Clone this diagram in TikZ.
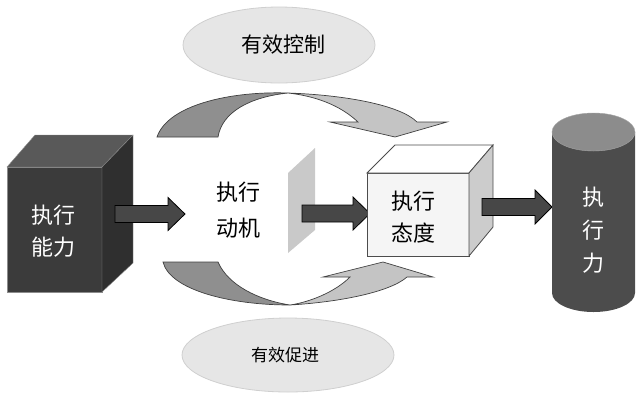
\documentclass[tikz,border=0pt]{standalone}
\usepackage{fontspec}
\newfontfamily\cjk{Noto Sans CJK SC}
\definecolor{cubedark}{HTML}{3B3B3B}
\definecolor{cubetop}{HTML}{595959}
\definecolor{cubeside}{HTML}{2F2F2F}
\definecolor{ribdark}{HTML}{8F8F8F}
\definecolor{riblight}{HTML}{C4C4C4}
\definecolor{ellfill}{HTML}{E6E6E6}
\definecolor{elledge}{HTML}{CFCFCF}
\tikzset{
  blockarr/.style={fill=black!72, draw=black, line width=0.8pt},
  ribbon/.style={draw=black!75, line width=0.7pt},
  ovalbg/.style={fill=ellfill, draw=elledge, line width=0.8pt},
  lbl/.style={align=center, inner sep=0pt},
}
\begin{document}
\begin{tikzpicture}[x=1pt,y=-1pt]
\useasboundingbox (0,0) rectangle (644,400);
% ellipses
\draw[ovalbg] (279,45) ellipse [x radius=96, y radius=38];
\draw[ovalbg] (288,355) ellipse [x radius=106, y radius=37];
\node[lbl, font=\cjk\fontsize{21}{25}\selectfont] (ctrl) at (283,45) {有效控制};
\node[lbl, font=\cjk\fontsize{17}{20}\selectfont] (prom) at (285,355) {有效促进};
% top ribbon
\draw[ribbon, fill=ribdark] (157,137) .. controls (168,105) and (230,91) .. (288,93) .. controls (250,97) and (222,112) .. (218,137) -- cycle;
\draw[ribbon, fill=riblight] (288,93) .. controls (345,95) and (400,105) .. (417,122) -- (447,122) -- (395,137) -- (330,122) -- (358,122) .. controls (340,105) and (315,96) .. (288,93) -- cycle;
% bottom ribbon
\draw[ribbon, fill=ribdark] (163,262) -- (218,262) .. controls (228,285) and (258,300) .. (290,305) .. controls (230,305) and (170,290) .. (163,262) -- cycle;
\draw[ribbon, fill=riblight] (290,305) .. controls (340,302) and (390,292) .. (407,277) -- (433,277) -- (383,262) -- (323,277) -- (350,277) .. controls (335,292) and (310,302) .. (290,305) -- cycle;
% left cube
\draw[draw=black!45, fill=cubedark] (7,167) -- (102,167) -- (102,292) -- (7,292) -- cycle;
\draw[draw=black!45, fill=cubetop] (7,167) -- (35,135) -- (133,135) -- (102,167) -- cycle;
\draw[draw=black!45, fill=cubeside] (102,167) -- (133,135) -- (133,263) -- (102,292) -- cycle;
\node[lbl, text=white, font=\cjk\fontsize{22}{32}\selectfont] (abil) at (53,231) {执行\\能力};
% arrow 1
\draw[blockarr] (115,205.5) -- (168,205.5) -- (168,197.5) -- (185,214) -- (168,230.5) -- (168,222.5) -- (115,222.5) -- cycle;
% motive
\node[lbl, font=\cjk\fontsize{22}{36}\selectfont] (motv) at (238,210) {执行\\动机};
% plate
\fill[black!21] (288,173) -- (315,148) -- (315,230) -- (288,253) -- cycle;
% arrow 2
\draw[blockarr] (302,205) -- (353,205) -- (353,197) -- (370,213.5) -- (353,230) -- (353,222) -- (302,222) -- cycle;
% middle cube
\draw[draw=black!70, line width=0.8pt, fill=black!4] (367,173) -- (469,173) -- (469,256) -- (367,256) -- cycle;
\draw[draw=black!70, line width=0.8pt, fill=white] (367,173) -- (395,145) -- (493,145) -- (469,173) -- cycle;
\draw[draw=black!70, line width=0.8pt, fill=black!20] (469,173) -- (493,145) -- (493,227) -- (469,256) -- cycle;
\node[lbl, font=\cjk\fontsize{22}{32}\selectfont] (atti) at (413,217) {执行\\态度};
% arrow 3
\draw[blockarr] (482,198.5) -- (535,198.5) -- (535,190) -- (552,207) -- (535,224) -- (535,215.5) -- (482,215.5) -- cycle;
% cylinder
\fill[black!70] (552,132) -- (552,293) arc[start angle=180, end angle=0, x radius=41.5, y radius=19] -- (635,132) -- cycle;
\draw[draw=black!35, fill=black!45] (593.5,132) ellipse [x radius=41.5, y radius=19];
\node[lbl, text=white, font=\cjk\fontsize{22}{33}\selectfont] (exec) at (593,230) {执\\行\\力};
\end{tikzpicture}
\end{document}
